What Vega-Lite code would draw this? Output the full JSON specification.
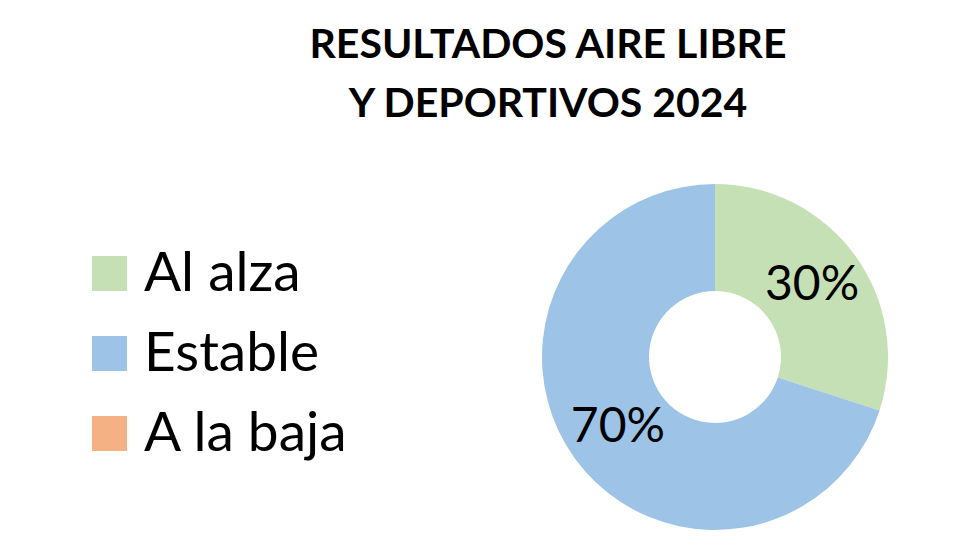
{
  "$schema": "https://vega.github.io/schema/vega-lite/v6.json",
  "width": 346,
  "height": 346,
  "autosize": {"type": "none"},
  "padding": {"left": 542, "top": 184, "right": 92, "bottom": 30},
  "background": "white",
  "title": {
    "text": ["RESULTADOS AIRE LIBRE", "Y DEPORTIVOS 2024"],
    "font": "Lato",
    "fontSize": 41,
    "fontWeight": "bold",
    "color": "black",
    "lineHeight": 59,
    "anchor": "middle",
    "dx": -167,
    "offset": 58
  },
  "data": {
    "values": [
      {"categoria": "Al alza", "valor": 30},
      {"categoria": "Estable", "valor": 70},
      {"categoria": "A la baja", "valor": 0}
    ]
  },
  "encoding": {
    "theta": {"field": "valor", "type": "quantitative", "stack": true}
  },
  "layer": [
    {
      "mark": {"type": "arc", "innerRadius": 66, "outerRadius": 173},
      "encoding": {
        "color": {
          "field": "categoria",
          "type": "nominal",
          "scale": {
            "domain": ["Al alza", "Estable", "A la baja"],
            "range": ["#C5E0B4", "#9DC3E6", "#F4B183"]
          },
          "legend": {
            "title": null,
            "orient": "none",
            "legendX": -460,
            "legendY": 62,
            "symbolType": "square",
            "symbolSize": 1225,
            "symbolStrokeWidth": 0,
            "symbolOpacity": 1,
            "labelFont": "Lato",
            "labelFontSize": 55,
            "labelColor": "black",
            "labelOffset": 7,
            "rowPadding": 24,
            "labelLimit": 400
          }
        }
      }
    },
    {
      "transform": [
        {"filter": "datum.valor > 0"},
        {"calculate": "datum.valor + '%'", "as": "etiqueta"}
      ],
      "mark": {"type": "text", "radius": 120, "font": "Lato", "fontSize": 48, "fill": "black", "align": "center", "baseline": "middle"},
      "encoding": {
        "text": {"field": "etiqueta"},
        "detail": {"field": "categoria"}
      }
    }
  ],
  "config": {"view": {"stroke": null}}
}
